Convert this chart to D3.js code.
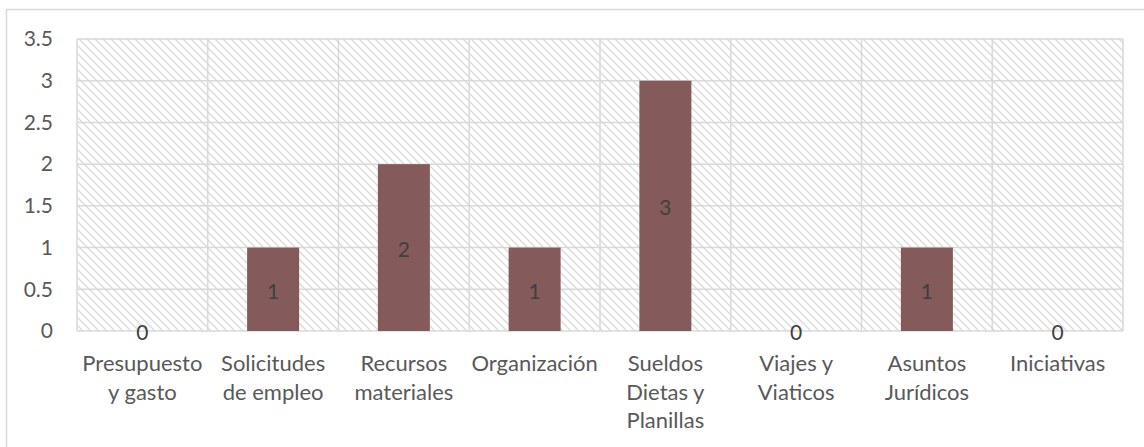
<!DOCTYPE html>
<html><head><meta charset="utf-8">
<script src="https://cdn.jsdelivr.net/npm/d3@7"></script>
<style>html,body{margin:0;padding:0;background:#fff;} svg{display:block;}</style>
</head><body>
<svg id="c" width="1144" height="447"></svg>
<script>
const categories = [["Presupuesto","y gasto"],["Solicitudes","de empleo"],["Recursos","materiales"],["Organización"],["Sueldos","Dietas y","Planillas"],["Viajes y","Viaticos"],["Asuntos","Jurídicos"],["Iniciativas"]];
const values = [0,1,2,1,3,0,1,0];
const yTicks = [0,0.5,1,1.5,2,2.5,3,3.5];
const yTickLabels = ["0","0.5","1","1.5","2","2.5","3","3.5"];

const svg = d3.select("#c");
const font = "Lato, Carlito, 'Open Sans', sans-serif";
const m = {l:77, r:1123, t:39, b:331};

svg.append("rect").attr("x",6.5).attr("y",9.5).attr("width",1160).attr("height",460)
  .attr("fill","#fff").attr("stroke","#d9d9d9").attr("stroke-width",1.5);

const defs = svg.append("defs");
const pat = defs.append("pattern").attr("id","hatch").attr("patternUnits","userSpaceOnUse")
  .attr("width",8).attr("height",8);
pat.append("path").attr("d","M-2,-2 L10,10 M-2,6 L2,10 M6,-2 L10,2").attr("stroke","#d9d9d9").attr("stroke-width",1.3);

const x = d3.scaleBand().domain(d3.range(categories.length)).range([m.l,m.r]).paddingInner(0).paddingOuter(0);
const y = d3.scaleLinear().domain([0,3.5]).range([m.b,m.t]);

svg.append("rect").attr("x",m.l).attr("y",m.t).attr("width",m.r-m.l).attr("height",m.b-m.t).attr("fill","url(#hatch)");

// horizontal gridlines
svg.append("g").selectAll("line").data(yTicks).join("line")
  .attr("x1",m.l).attr("x2",m.r).attr("y1",d=>y(d)).attr("y2",d=>y(d))
  .attr("stroke","#d9d9d9").attr("stroke-width",1.5);
// vertical gridlines
const bounds = d3.range(categories.length+1).map(i=> i<categories.length ? x(i) : m.r);
svg.append("g").selectAll("line").data(bounds).join("line")
  .attr("x1",d=>d).attr("x2",d=>d).attr("y1",m.t).attr("y2",m.b)
  .attr("stroke","#d9d9d9").attr("stroke-width",1.5);

// y axis labels
const yAxis = d3.axisLeft(y).tickValues(yTicks).tickFormat((d,i)=>yTickLabels[i]).tickSize(0).tickPadding(24);
const ga = svg.append("g").attr("transform",`translate(${m.l},0)`).call(yAxis);
ga.select(".domain").remove();
ga.selectAll("text").attr("font-family",font).attr("font-size",21).attr("fill","#595959");

// bars
const bw = 52;
svg.append("g").selectAll("rect").data(values).join("rect")
  .attr("x",(d,i)=>x(i)+x.bandwidth()/2-bw/2).attr("width",bw)
  .attr("y",d=>y(d)).attr("height",d=>y(0)-y(d)).attr("fill","#845a5a");

// data labels
svg.append("g").selectAll("text").data(values).join("text")
  .attr("x",(d,i)=>x(i)+x.bandwidth()/2).attr("y",d=>(y(d)+y(0))/2)
  .attr("dy","0.45em").attr("text-anchor","middle")
  .attr("font-family",font).attr("font-size",21).attr("fill","#404040").text(d=>d);

// category labels
const cg = svg.append("g");
categories.forEach((lines,i)=>{
  const t = cg.append("text").attr("text-anchor","middle").attr("font-family",font)
    .attr("font-size",22).attr("fill","#595959");
  lines.forEach((l,j)=>t.append("tspan").attr("x",x(i)+x.bandwidth()/2).attr("y",363+j*28.6).attr("dy","0.36em").text(l));
});
</script>
</body></html>
